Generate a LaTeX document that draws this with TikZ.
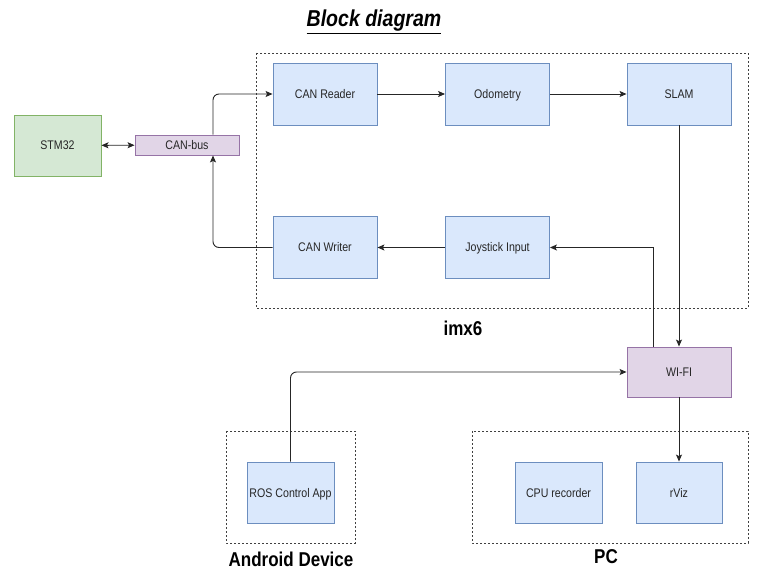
\documentclass[tikz,border=0pt]{standalone}
\usepackage{fontspec}
\setmainfont[FakeStretch=0.85]{Liberation Sans}
\usetikzlibrary{arrows.meta}
\definecolor{blufill}{HTML}{DAE8FC}
\definecolor{bluline}{HTML}{6C8EBF}
\definecolor{grnfill}{HTML}{D5E8D4}
\definecolor{grnline}{HTML}{82B366}
\definecolor{purfill}{HTML}{E1D5E7}
\definecolor{purline}{HTML}{9673A6}
\tikzset{
  blk/.style={draw=bluline,fill=blufill,line width=0.9pt,inner sep=0pt,
    minimum width=104pt,minimum height=62pt,text=black!85,
    text height=11pt,text depth=2pt,
    font=\fontsize{12.5}{14}\selectfont},
  grp/.style={draw=black!75,line width=0.7pt,dash pattern=on 2pt off 2pt},
  grplabel/.style={font=\bfseries\fontsize{20}{22}\selectfont},
  wire/.style={draw=black!85,line width=0.9pt,-{Stealth[length=7pt,width=6pt,inset=1.5pt]}}
}
\begin{document}
\begin{tikzpicture}[x=1pt,y=-1pt]
  \useasboundingbox (0,0) rectangle (761,585);
  \node (title) at (374,22) {\fontsize{23}{26}\selectfont\underline{\textbf{\textit{Block diagram}}}};
  \draw[grp] (256,53) rectangle (748,308);
  \draw[grp] (226,431) rectangle (355,543);
  \draw[grp] (472,431) rectangle (748,543);
  \node[grplabel] (imxlabel) at (463,328) {imx6};
  \node[grplabel] (andlabel) at (291,559) {Android Device};
  \node[grplabel] (pclabel) at (606,557) {PC};
  \node[blk,draw=grnline,fill=grnfill,minimum width=87pt,minimum height=61pt] (stm) at (57.5,145.5) {STM32};
  \node[blk,draw=purline,fill=purfill,minimum height=20pt] (canbus) at (187,145) {CAN-bus};
  \node[blk] (canreader) at (325,94) {CAN Reader};
  \node[blk] (odom) at (497.5,94) {Odometry};
  \node[blk] (slam) at (679,94) {SLAM};
  \node[blk] (canwriter) at (325,247.5) {CAN Writer};
  \node[blk] (joy) at (497.5,247.5) {Joystick Input};
  \node[blk,draw=purline,fill=purfill,minimum height=50pt] (wifi) at (679,372) {WI-FI};
  \node[blk,minimum width=87pt,minimum height=61pt] (ros) at (290.5,492.5) {ROS Control App};
  \node[blk,minimum width=87pt,minimum height=61pt] (cpu) at (558.5,492.5) {CPU recorder};
  \node[blk,minimum width=86pt,minimum height=61pt] (rviz) at (679,492.5) {rViz};
  \draw[wire,{Stealth[length=7pt,width=6pt,inset=1.5pt]}-{Stealth[length=7pt,width=6pt,inset=1.5pt]}] (stm) -- (canbus);
  \draw[wire,rounded corners=6pt] ([xshift=26pt]canbus.north) |- (canreader);
  \draw[wire,rounded corners=6pt] (canwriter) -| ([xshift=26pt]canbus.south);
  \draw[wire] (canreader) -- (odom);
  \draw[wire] (odom) -- (slam);
  \draw[wire] (joy) -- (canwriter);
  \draw[wire] (slam) -- (wifi);
  \draw[wire] ([xshift=-26pt]wifi.north) |- (joy);
  \draw[wire,rounded corners=6pt] (ros) |- (wifi);
  \draw[wire] (wifi) -- (rviz);
\end{tikzpicture}
\end{document}
